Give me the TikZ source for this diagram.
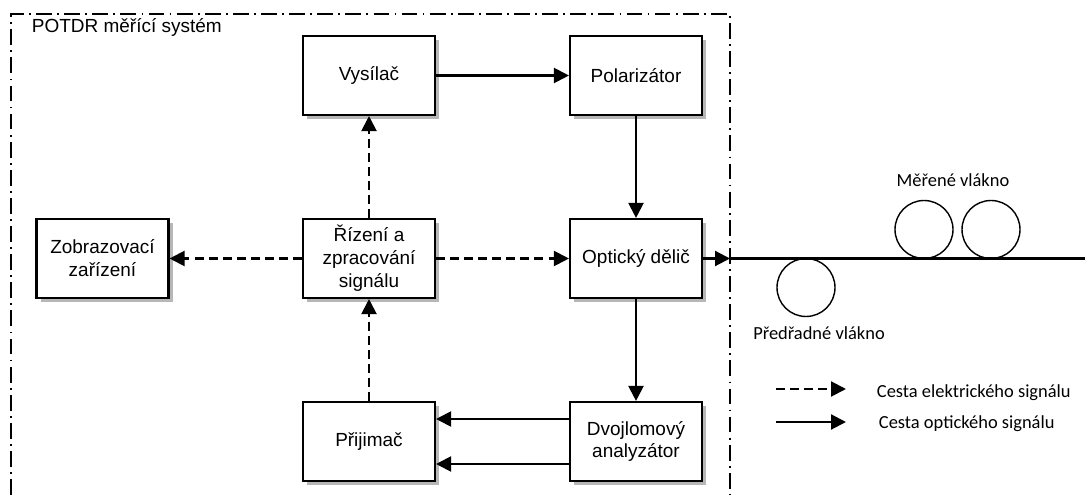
\documentclass[tikz,border=0pt]{standalone}
\usepackage{fontspec}
\setmainfont{Liberation Sans}
\newfontfamily\calibri{Carlito}
\usepackage{tikz}
\usetikzlibrary{positioning, arrows.meta, shadows, calc}

\begin{document}
\begin{tikzpicture}[
    >={Triangle[length=3mm, width=3mm]},
    line width=1.2pt,
    every node/.style={font=\fontsize{10.8}{13}\selectfont},
    block/.style={draw, fill=white, minimum width=2.64cm, minimum height=1.58cm,
        align=center, inner sep=2pt,
        drop shadow={shadow xshift=2.5pt, shadow yshift=-2.5pt, opacity=0.4, fill=black!70}},
    elec/.style={dash pattern=on 5pt off 3pt},
    coil/.style={circle, draw, line width=0.8pt, minimum size=1.16cm, inner sep=0pt},
    note/.style={font=\calibri\fontsize{10.5}{12}\selectfont}
]
    \useasboundingbox (0,0) rectangle (21.7,9.9);

    % System frame, open at the bottom:
    \draw[line width=0.7pt, dash pattern=on 9pt off 3pt on 1pt off 3pt]
        (0.22,0) -- (0.22,9.62) -- (14.6,9.62) -- (14.6,0);
    \node[anchor=west] (title) at (0.5,9.36) {POTDR měřící systém};

    % Blocks of the measuring system:
    \node[block] (vys) at (7.38,8.39) {Vysílač};
    \node[block] (pol) at (12.72,8.39) {Polarizátor};
    \node[block] (zob) at (2.05,4.73) {Zobrazovací\\zařízení};
    \node[block] (riz) at (7.38,4.73) {Řízení a\\zpracování\\signálu};
    \node[block] (opt) at (12.72,4.73) {Optický dělič};
    \node[block] (pri) at (7.38,1.07) {Přijimač};
    \node[block] (dvo) at (12.72,1.07) {Dvojlomový\\analyzátor};

    \path[->]
        (vys) edge (pol)
        (pol) edge (opt)
        (opt) edge (dvo)
        ([yshift=0.45cm]dvo.west) edge ([yshift=0.45cm]pri.east)
        ([yshift=-0.45cm]dvo.west) edge ([yshift=-0.45cm]pri.east)
        (riz) edge[elec] (vys)
        (riz) edge[elec] (zob)
        (riz) edge[elec] (opt)
        (pri) edge[elec] (riz);

    % Fibre outside the frame:
    \coordinate (port) at (14.6,4.73);
    \coordinate (fibend) at (21.7,4.73);
    \draw[->] (opt) -- (port);
    \draw (port) -- (fibend);
    \node[coil] (pre) at (16.12,4.15) {};
    \node[coil] (mer1) at (18.48,5.31) {};
    \node[coil] (mer2) at (19.82,5.31) {};
    \node[note] (mertxt) at (19.06,6.3) {Měřené vlákno};
    \node[note] (pretxt) at (16.38,3.24) {Předřadné vlákno};

    % Legend:
    \coordinate (el1) at (15.52,2.12);
    \coordinate (el2) at (16.92,2.12);
    \coordinate (op1) at (15.52,1.46);
    \coordinate (op2) at (16.92,1.46);
    \draw[->, elec] (el1) -- (el2);
    \draw[->] (op1) -- (op2);
    \node[note, anchor=west] (eltxt) at (17.40,2.04) {Cesta elektrického signálu};
    \node[note, anchor=west] (optxt) at (17.44,1.42) {Cesta optického signálu};
\end{tikzpicture}
\end{document}
